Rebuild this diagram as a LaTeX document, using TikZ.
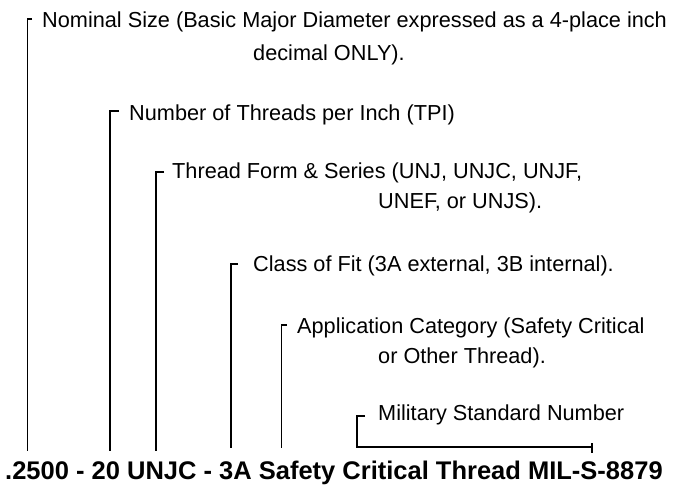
\documentclass[tikz,border=0pt]{standalone}
\usepackage{fontspec}
\setmainfont{Liberation Sans}
\begin{document}
\begin{tikzpicture}[x=1pt,y=-1pt,
  lbl/.style={anchor=base west,inner sep=0pt,font=\fontsize{21.7}{26}\selectfont},
  code/.style={anchor=base west,inner sep=0pt,font=\fontsize{25.5}{30}\selectfont\bfseries},
  ld/.style={line width=1.2pt}]
\useasboundingbox (0,0) rectangle (674,487);
% labels
\node[lbl] (nomA) at (42,28) {Nominal Size (Basic Major Diameter expressed as a 4-place inch};
\node[lbl] (nomB) at (253,60) {decimal ONLY).};
\node[lbl] (tpi) at (129,120) {Number of Threads per Inch (TPI)};
\node[lbl] (frmA) at (172,178) {Thread Form \& Series (UNJ, UNJC, UNJF,};
\node[lbl] (frmB) at (378,208) {UNEF, or UNJS).};
\node[lbl] (cls) at (253,271) {Class of Fit (3A external, 3B internal).};
\node[lbl] (appA) at (297,333) {Application Category (Safety Critical};
\node[lbl] (appB) at (378,363) {or Other Thread).};
\node[lbl] (mil) at (378,420) {Military Standard Number};
\node[code] (des) at (5,479) {.2500 - 20 UNJC - 3A Safety Critical Thread MIL-S-8879};
% bracket coordinates
\coordinate (nomT) at (32,19);   \coordinate (nomC) at (27.5,19);  \coordinate (nomE) at (27.5,451);
\coordinate (tpiT) at (119,111); \coordinate (tpiC) at (110,111);  \coordinate (tpiE) at (110,451);
\coordinate (frmT) at (164,172); \coordinate (frmC) at (156,172);  \coordinate (frmE) at (156,451);
\coordinate (clsT) at (238,264); \coordinate (clsC) at (231,264);  \coordinate (clsE) at (231,448);
\coordinate (appT) at (287,325); \coordinate (appC) at (281.5,325); \coordinate (appE) at (281.5,448);
\coordinate (milT) at (365,416); \coordinate (milC) at (357,416);  \coordinate (milB) at (357,447);
\coordinate (milE) at (592,447); \coordinate (milU) at (592,443);  \coordinate (milD) at (592,453);
\draw[ld] (nomT) -- (nomC) -- (nomE);
\draw[ld] (tpiT) -- (tpiC) -- (tpiE);
\draw[ld] (frmT) -- (frmC) -- (frmE);
\draw[ld] (clsT) -- (clsC) -- (clsE);
\draw[ld] (appT) -- (appC) -- (appE);
\draw[ld] (milT) -- (milC) -- (milB) -- (milE);
\draw[ld] (milU) -- (milD);
\end{tikzpicture}
\end{document}
